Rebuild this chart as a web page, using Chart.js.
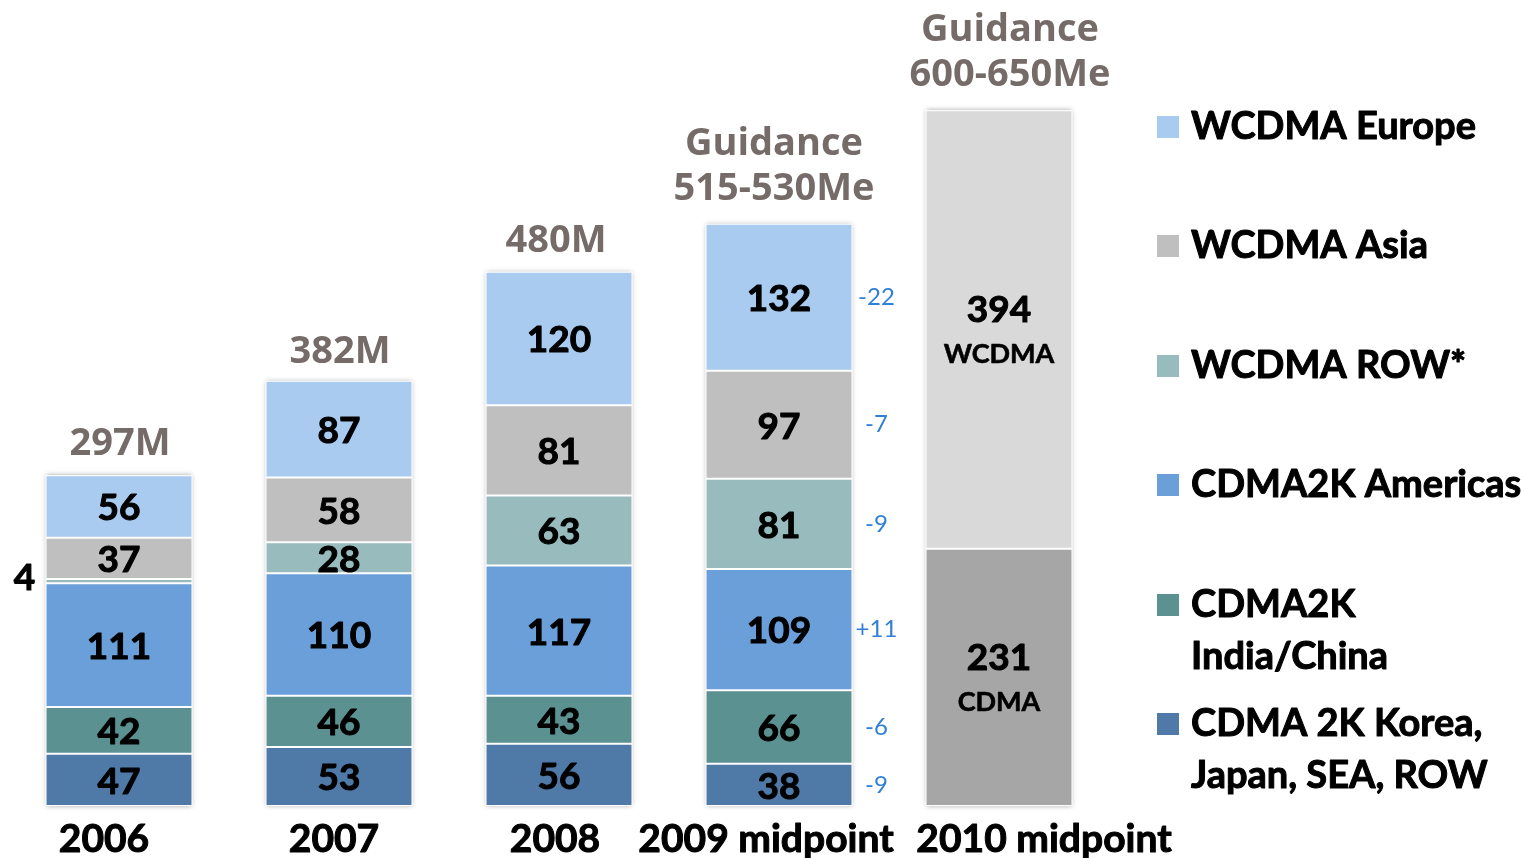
<!DOCTYPE html>
<html>
<head>
<meta charset="utf-8">
<script src="https://cdn.jsdelivr.net/npm/chart.js@4.4.1/dist/chart.umd.min.js"></script>
<style>
  html, body { margin:0; padding:0; background:#fff; }
  #wrap { position:relative; width:1524px; height:858px; }
</style>
</head>
<body>
<div id="wrap"><canvas id="chart" width="1524" height="858"></canvas></div>
<script>
// data (bottom of the stack first)
var categories   = ['2006', '2007', '2008', '2009 midpoint', '2010 midpoint'];
var korea        = [47, 53, 56, 38, null];
var indiaChina   = [42, 46, 43, 66, null];
var americas     = [111, 110, 117, 109, null];
var wcdmaRow     = [4, 28, 63, 81, null];
var wcdmaAsia    = [37, 58, 81, 97, null];
var wcdmaEurope  = [56, 87, 120, 132, null];
var cdma2010     = [null, null, null, null, 231];
var wcdma2010    = [null, null, null, null, 394];
var totalLabels  = [['297M'], ['382M'], ['480M'], ['Guidance', '515-530Me'], ['Guidance', '600-650Me']];
var changes2009  = ['-9', '-6', '+11', '-9', '-7', '-22'];   // same order as series
var legendNames  = [['WCDMA Europe'], ['WCDMA Asia'], ['WCDMA ROW*'], ['CDMA2K Americas'],
                    ['CDMA2K', 'India/China'], ['CDMA 2K Korea,', 'Japan, SEA, ROW']];

// styles
var colKorea = '#4f7aa8', colIndia = '#5c9192', colAmer = '#6a9fd9',
    colRow = '#98bcbd', colAsia = '#bfbfbf', colEur = '#a9cbef';
var xLabelShift = [-15, -5, -4, -13, 45];
var totalShift = [1, 1, -3, -5, 11];
var totalGap = [31, 29, 30, 35, 35];

function ds(label, data, color, sub) {
  return { label: label, data: data, backgroundColor: color, borderColor: '#ffffff',
           borderWidth: 1, borderSkipped: false, stack: 's', sub: sub };
}

var datasets = [
  ds('CDMA 2K Korea, Japan, SEA, ROW', korea, colKorea),
  ds('CDMA2K India/China', indiaChina, colIndia),
  ds('CDMA2K Americas', americas, colAmer),
  ds('WCDMA ROW*', wcdmaRow, colRow),
  ds('WCDMA Asia', wcdmaAsia, colAsia),
  ds('WCDMA Europe', wcdmaEurope, colEur),
  ds('CDMA', cdma2010, '#a6a6a6', 'CDMA'),
  ds('WCDMA', wcdma2010, '#d9d9d9', 'WCDMA')
];

// bold text with a thin stroke so it reads as heavy as the original
function heavy(ctx, txt, x, y, w) {
  ctx.lineWidth = w || 1;
  ctx.strokeStyle = ctx.fillStyle;
  ctx.lineJoin = 'round';
  ctx.strokeText(txt, x, y);
  ctx.fillText(txt, x, y);
}

var decor = {
  id: 'decor',
  beforeDatasetsDraw: function(chart) {
    // soft shadow round each bar
    var ctx = chart.ctx, y = chart.scales.y;
    var m0 = chart.getDatasetMeta(0), m6 = chart.getDatasetMeta(6);
    ctx.save();
    ctx.shadowColor = 'rgba(0,0,0,0.35)';
    ctx.shadowBlur = 5;
    ctx.fillStyle = '#ffffff';
    for (var i = 0; i < categories.length; i++) {
      var tot = 0;
      chart.data.datasets.forEach(function(d) { tot += d.data[i] || 0; });
      var el = (korea[i] != null) ? m0.data[i] : m6.data[i];
      var top = y.getPixelForValue(tot), base = y.getPixelForValue(0);
      ctx.fillRect(el.x - el.width / 2, top, el.width, base - top);
    }
    ctx.restore();
  },
  afterDatasetsDraw: function(chart) {
    var ctx = chart.ctx, y = chart.scales.y, x = chart.scales.x;
    ctx.save();
    ctx.textAlign = 'center';
    ctx.textBaseline = 'middle';
    chart.data.datasets.forEach(function(d, di) {
      var meta = chart.getDatasetMeta(di);
      meta.data.forEach(function(el, i) {
        var v = d.data[i];
        if (v == null) return;
        var h = Math.abs(el.base - el.y), cy = (el.y + el.base) / 2;
        ctx.fillStyle = '#000';
        ctx.font = 'bold 37px Lato';
        if (d.sub) {
          heavy(ctx, String(v), el.x, cy - 19);
          ctx.font = 'bold 27px Lato';
          heavy(ctx, d.sub, el.x, cy + 25, 0.6);
        } else if (h < 20) {
          heavy(ctx, String(v), el.x - el.width / 2 - 21, cy - 3);
        } else {
          heavy(ctx, String(v), el.x, cy + 2);
        }
        if (i === 3 && !d.sub) {
          ctx.fillStyle = '#2f80d8';
          ctx.font = '24px Lato';
          ctx.fillText(changes2009[di], el.x + el.width / 2 + 24, cy);
        }
      });
    });
    // totals above bars
    for (var i = 0; i < categories.length; i++) {
      var tot = 0;
      chart.data.datasets.forEach(function(d) { tot += d.data[i] || 0; });
      var top = y.getPixelForValue(tot), cx = x.getPixelForValue(i);
      var lines = totalLabels[i];
      ctx.fillStyle = '#756b68';
      ctx.font = 'bold 38px "Open Sans"';
      for (var k = 0; k < lines.length; k++) {
        ctx.fillText(lines[k], cx + totalShift[i], top - totalGap[i] - (lines.length - 1 - k) * 45);
      }
      // category labels
      ctx.fillStyle = '#000';
      ctx.font = 'bold 39px Lato';
      heavy(ctx, categories[i], cx + xLabelShift[i], 839);
    }
    // legend
    ctx.textAlign = 'left';
    var legCols = [colEur, colAsia, colRow, colAmer, colIndia, colKorea];
    var legY = [127, 246, 366, 485, 605, 724];
    for (var j = 0; j < legendNames.length; j++) {
      ctx.fillStyle = legCols[j];
      ctx.fillRect(1157, legY[j] - 11, 22, 22);
      ctx.fillStyle = '#000';
      ctx.font = 'bold 38px Lato';
      for (var k = 0; k < legendNames[j].length; k++) {
        heavy(ctx, legendNames[j][k], 1191, legY[j] + k * 52);
      }
    }
    ctx.restore();
  }
};

new Chart(document.getElementById('chart'), {
  type: 'bar',
  data: { labels: categories, datasets: datasets },
  options: {
    responsive: false,
    animation: false,
    layout: { padding: { left: 9, right: 415, top: 49, bottom: 52 } },
    categoryPercentage: 1,
    barPercentage: 0.668,
    plugins: { legend: { display: false }, tooltip: { enabled: false } },
    scales: {
      x: { stacked: true, display: false, grid: { display: false } },
      y: { stacked: true, display: false, min: 0, max: 680, grid: { display: false } }
    }
  },
  plugins: [decor]
});
</script>
</body>
</html>
